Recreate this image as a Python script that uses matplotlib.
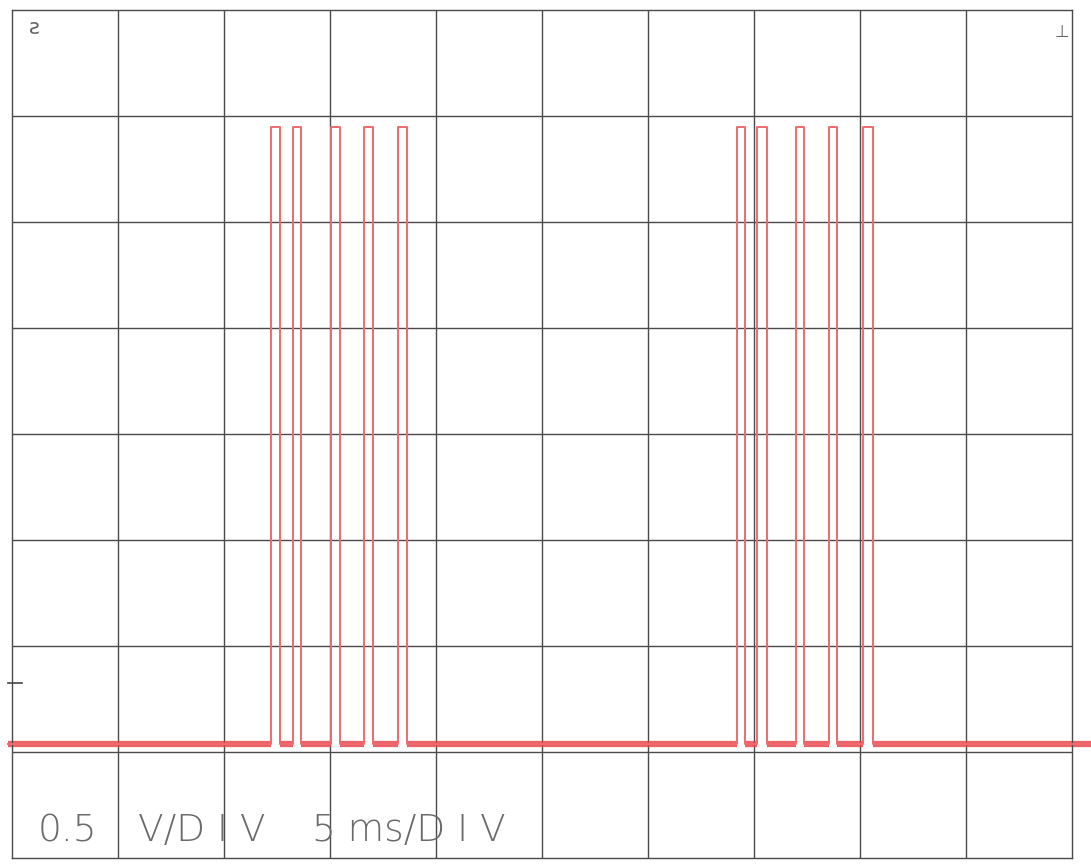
import numpy as np
import matplotlib.pyplot as plt

# scope settings
volts_per_div = 0.5
ms_per_div = 5
n_xdiv, n_ydiv = 10, 8

# pulse edges (ms)
rise_ms = [12.22, 13.25, 15.05, 16.60, 18.21, 34.20, 35.14, 36.98, 38.54, 40.14]
fall_ms = [12.64, 13.63, 15.47, 17.03, 18.63, 34.58, 35.61, 37.36, 38.92, 40.61]
low_v = 0.54
high_v = 3.45
ground_v = 0.825
t_start, t_end = -0.2, 51.0

# build the trace as a square wave from the edge list
t = [t_start]
v = [low_v]
for r, f in zip(rise_ms, fall_ms):
    t += [r, r, f, f]
    v += [low_v, high_v, high_v, low_v]
t.append(t_end)
v.append(low_v)

fig = plt.figure(figsize=(10.91, 8.66), dpi=100)
ax = fig.add_axes([12 / 1091, 1 - 858 / 866, 1060 / 1091, 848 / 866])

xmax = n_xdiv * ms_per_div
ymax = n_ydiv * volts_per_div
ax.set_xlim(0, xmax)
ax.set_ylim(0, ymax)

for i in range(1, n_xdiv):
    ax.axvline(i * ms_per_div, color="#4a4a4a", lw=1.0, zorder=1)
for j in range(1, n_ydiv):
    ax.axhline(j * volts_per_div, color="#4a4a4a", lw=1.0, zorder=1)
for s in ax.spines.values():
    s.set_color("#4a4a4a")
    s.set_linewidth(1.0)
ax.set_xticks([])
ax.set_yticks([])

# thick noisy-looking band on the low level
lows_start = [t_start] + fall_ms
lows_end = rise_ms + [t_end]
for a, b in zip(lows_start, lows_end):
    ax.plot([a, b], [low_v, low_v], color="#e8474c", lw=4.5, alpha=0.85,
            solid_capstyle="butt", clip_on=False, zorder=2)
ax.plot(t, v, color="#ee6a6e", lw=1.4, clip_on=False, zorder=3)

# ground marker and screen symbols
ax.plot([-0.2, 0.45], [ground_v, ground_v], color="#444444", lw=1.2,
        clip_on=False)
ax.text(0.016, 0.99, "ƨ", transform=ax.transAxes, fontsize=15,
        color="#666666", va="top", ha="left")
ax.text(0.997, 0.985, "⊥", transform=ax.transAxes, fontsize=12,
        color="#666666", va="top", ha="right")

# scale readout
label_kw = dict(transform=ax.transAxes, fontsize=27, color="#6a6a6a",
                va="baseline", ha="left", family="DejaVu Sans",
                fontweight="light")
ax.text(26 / 1060, 17 / 848, "0.5", **label_kw)
ax.text(126 / 1060, 17 / 848, "V/D I V", **label_kw)
ax.text(300 / 1060, 17 / 848, "5 ms/D I V", **label_kw)

fig.savefig("out.png", dpi=100)
